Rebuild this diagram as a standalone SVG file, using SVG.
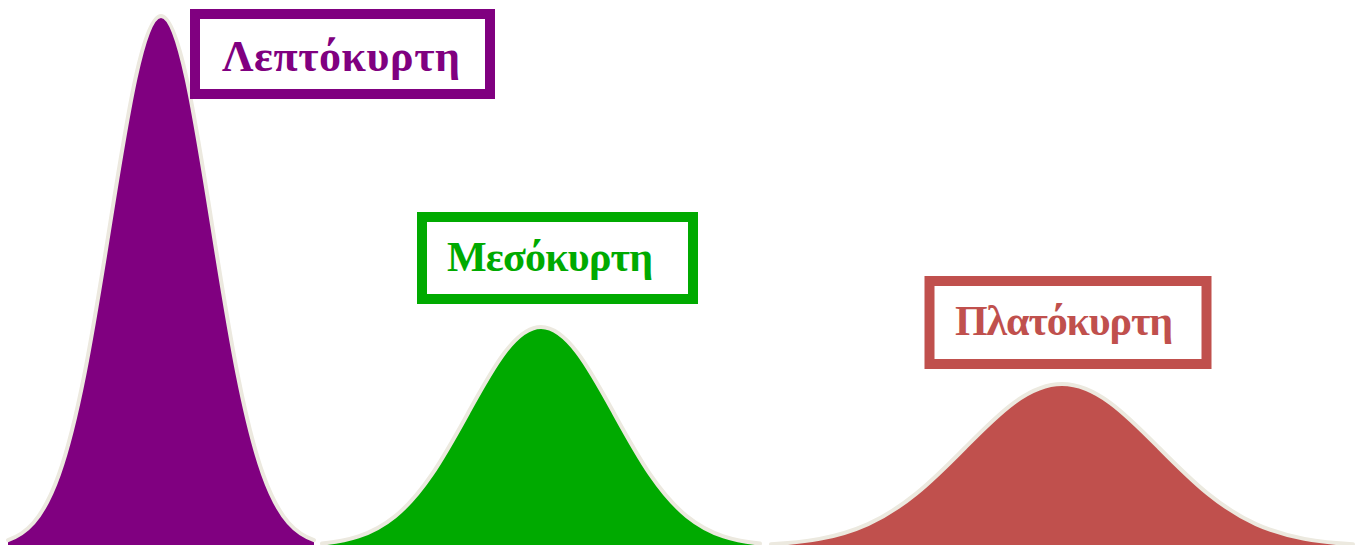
<svg xmlns="http://www.w3.org/2000/svg" xmlns:xlink="http://www.w3.org/1999/xlink" width="1355" height="545" viewBox="0 0 1355 545">
<style>
.curve{fill:none;stroke:#ECE9DF;stroke-width:4;stroke-linecap:round;stroke-linejoin:round}
.box{fill:#FFFFFF;stroke-width:10}
.lbl{font-family:"Liberation Serif","Times New Roman",serif;font-weight:bold;font-size:44px}
</style>
<defs>
<path id="area" d="M-3,-0.0111 C-2.8333,-0.0167 -2.6667,-0.0256 -2.5,-0.0439 C-2.3333,-0.0622 -2.1667,-0.0902 -2,-0.1353 C-1.8333,-0.1804 -1.6667,-0.2435 -1.5,-0.3247 C-1.3333,-0.4059 -1.1667,-0.5054 -1,-0.6065 C-0.8333,-0.7076 -0.6667,-0.809 -0.5,-0.8825 C-0.3333,-0.956 -0.1667,-1 0,-1 C0.1667,-1 0.3333,-0.956 0.5,-0.8825 C0.6667,-0.809 0.8333,-0.7076 1,-0.6065 C1.1667,-0.5054 1.3333,-0.4059 1.5,-0.3247 C1.6667,-0.2435 1.8333,-0.1804 2,-0.1353 C2.1667,-0.0902 2.3333,-0.0622 2.5,-0.0439 C2.6667,-0.0256 2.8333,-0.0167 3,-0.0111 L3,0.02 L-3,0.02 Z"/>
<path id="curve" vector-effect="non-scaling-stroke" d="M-3,-0.0111 C-2.8333,-0.0167 -2.6667,-0.0256 -2.5,-0.0439 C-2.3333,-0.0622 -2.1667,-0.0902 -2,-0.1353 C-1.8333,-0.1804 -1.6667,-0.2435 -1.5,-0.3247 C-1.3333,-0.4059 -1.1667,-0.5054 -1,-0.6065 C-0.8333,-0.7076 -0.6667,-0.809 -0.5,-0.8825 C-0.3333,-0.956 -0.1667,-1 0,-1 C0.1667,-1 0.3333,-0.956 0.5,-0.8825 C0.6667,-0.809 0.8333,-0.7076 1,-0.6065 C1.1667,-0.5054 1.3333,-0.4059 1.5,-0.3247 C1.6667,-0.2435 1.8333,-0.1804 2,-0.1353 C2.1667,-0.0902 2.3333,-0.0622 2.5,-0.0439 C2.6667,-0.0256 2.8333,-0.0167 3,-0.0111"/>
</defs>
<rect width="1355" height="545" fill="#FFFFFF"/>
<g id="lepto">
<use href="#area" xlink:href="#area" fill="#800080" transform="translate(161,546) scale(51,530)"/>
<use href="#curve" xlink:href="#curve" class="curve" transform="translate(161,546) scale(51,530)"/>
<rect class="box" x="195" y="14" width="295" height="80" stroke="#800080"/>
<text class="lbl" x="222" y="71" textLength="238" fill="#800080">Λεπτόκυρτη</text>
</g>
<g id="meso">
<use href="#area" xlink:href="#area" fill="#00AA00" transform="translate(541,546) scale(73,219)"/>
<use href="#curve" xlink:href="#curve" class="curve" transform="translate(541,546) scale(73,219)"/>
<rect class="box" x="422" y="217" width="271" height="82" stroke="#00AA00"/>
<text class="lbl" x="447" y="271" textLength="206" style="font-size:42px" fill="#00AA00">Μεσόκυρτη</text>
</g>
<g id="platy">
<use href="#area" xlink:href="#area" fill="#C0504D" transform="translate(1062,546) scale(97,162)"/>
<use href="#curve" xlink:href="#curve" class="curve" transform="translate(1062,546) scale(97,162)"/>
<rect class="box" x="929.5" y="281" width="277" height="83" stroke="#C0504D"/>
<text class="lbl" x="955" y="335" textLength="218" style="font-size:42px" fill="#C0504D">Πλατόκυρτη</text>
</g>
<g id="connectors"></g>
</svg>
